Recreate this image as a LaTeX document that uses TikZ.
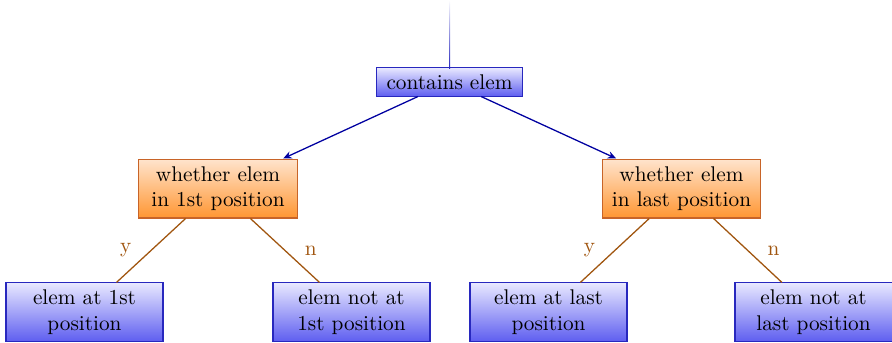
\documentclass[tikz,border=0pt]{standalone}
\usetikzlibrary{arrows.meta}
\definecolor{bluefillTop}{RGB}{232,232,255}
\definecolor{bluefillBot}{RGB}{95,95,240}
\definecolor{blueedge}{RGB}{40,40,190}
\definecolor{orfillTop}{RGB}{255,228,205}
\definecolor{orfillBot}{RGB}{255,150,50}
\definecolor{oredge}{RGB}{200,100,40}
\definecolor{arrowblue}{RGB}{0,0,160}
\definecolor{branch}{RGB}{160,85,15}
\tikzset{
  bluebox/.style={draw=blueedge, top color=bluefillTop, bottom color=bluefillBot,
    align=center, inner sep=0pt, line width=0.5pt},
  orbox/.style={draw=oredge, top color=orfillTop, bottom color=orfillBot,
    align=center, inner sep=0pt, line width=0.5pt},
  leafbox/.style={bluebox, minimum width=73.8pt, minimum height=27.3pt},
  midbox/.style={orbox, minimum width=74.3pt, minimum height=27.7pt},
  toparrow/.style={draw=arrowblue, line width=0.6pt, -{Stealth[length=4pt,width=3.5pt]}},
  branchline/.style={draw=branch, line width=0.6pt},
  branchlabel/.style={text=branch, inner sep=2pt}
}
\begin{document}
\begin{tikzpicture}[x=0.47pt, y=-0.47pt]
  \useasboundingbox (0,0) rectangle (892,342);
  % root
  \node[bluebox, minimum width=68.2pt, minimum height=13.2pt] (root) at (449.5,82) {contains elem};
  \coordinate (entry) at (449.5,0);
  \shade[top color=white, bottom color=blueedge] (449,0) rectangle (450,68);
  % second level
  \node[midbox] (left) at (218,188.5) {whether elem\\in 1st position};
  \node[midbox] (right) at (681.5,188.5) {whether elem\\in last position};
  % leaves
  \node[leafbox] (l1) at (84.5,312) {elem at 1st\\position};
  \node[leafbox] (l2) at (351.5,312) {elem not at\\1st position};
  \node[leafbox] (l3) at (548.5,312) {elem at last\\position};
  \node[leafbox] (l4) at (813.5,312) {elem not at\\last position};
  % connectors
  \draw[toparrow] (root) -- (left);
  \draw[toparrow] (root) -- (right);
  \draw[branchline] (left) -- node[branchlabel, left=7pt] {y} (l1);
  \draw[branchline] (left) -- node[branchlabel, right=7pt] {n} (l2);
  \draw[branchline] (right) -- node[branchlabel, left=7pt] {y} (l3);
  \draw[branchline] (right) -- node[branchlabel, right=7pt] {n} (l4);
\end{tikzpicture}
\end{document}
